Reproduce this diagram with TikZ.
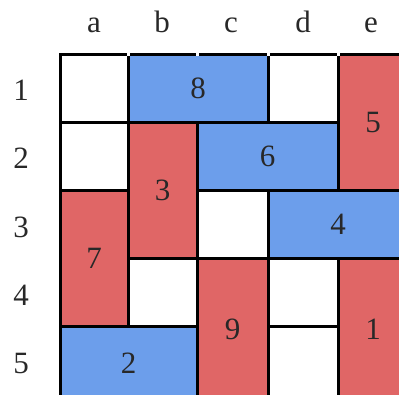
\documentclass[tikz,border=0pt]{standalone}
\usepackage{fontspec}
\setmainfont{Liberation Serif}
\definecolor{pblue}{RGB}{108,158,235}
\definecolor{pred}{RGB}{224,102,102}
\definecolor{ink}{RGB}{40,40,40}
\tikzset{
  piece/.style={draw=black, line width=3pt, inner sep=0pt, anchor=center, text=ink, font=\fontsize{31}{31}\selectfont},
  bluep/.style={piece, fill=pblue},
  redp/.style={piece, fill=pred},
  whitep/.style={piece, fill=white},
  lab/.style={text=ink, font=\fontsize{31}{31}\selectfont, anchor=base, inner sep=0pt},
  gapmark/.style={fill=white, draw=none}
}
\begin{document}
\begin{tikzpicture}[x=1pt,y=-1pt]
\useasboundingbox (0,0) rectangle (399,394);
\clip (0,0) rectangle (399,394);
% column labels
\node[lab] (ca) at (94,32) {a};
\node[lab] (cb) at (162,32) {b};
\node[lab] (cc) at (231,32) {c};
\node[lab] (cd) at (303,32) {d};
\node[lab] (ce) at (371,32) {e};
% row labels
\node[lab] (r1) at (21,100) {1};
\node[lab] (r2) at (21,168) {2};
\node[lab] (r3) at (21,237) {3};
\node[lab] (r4) at (21,305) {4};
\node[lab] (r5) at (21,373) {5};
% white cells
\node[whitep, minimum width=68pt, minimum height=68pt] (wa1) at (94,88) {};
\node[whitep, minimum width=70pt, minimum height=68pt] (wd1) at (303,88) {};
\node[whitep, minimum width=68pt, minimum height=68pt] (wa2) at (94,156) {};
\node[whitep, minimum width=71pt, minimum height=69pt] (wc3) at (232.5,224.5) {};
\node[whitep, minimum width=69pt, minimum height=68pt] (wb4) at (162.5,292) {};
\node[whitep, minimum width=70pt, minimum height=68pt] (wd4) at (303,292) {};
\node[whitep, minimum width=70pt, minimum height=74pt] (wd5) at (303,363) {};
% pieces
\node[bluep, minimum width=140pt, minimum height=68pt] (p8) at (198,88) {8};
\node[redp, minimum width=70pt, minimum height=136pt] (p5) at (373,122) {5};
\node[bluep, minimum width=141pt, minimum height=68pt] (p6) at (267.5,156) {6};
\node[redp, minimum width=69pt, minimum height=136pt] (p3) at (162.5,190) {3};
\node[bluep, minimum width=140pt, minimum height=68pt] (p4) at (338,224) {4};
\node[redp, minimum width=68pt, minimum height=136pt] (p7) at (94,258) {7};
\node[redp, minimum width=71pt, minimum height=142pt] (p9) at (232.5,329) {9};
\node[redp, minimum width=70pt, minimum height=142pt] (p1) at (373,329) {1};
\node[bluep, minimum width=137pt, minimum height=74pt] (p2) at (128.5,363) {2};
% small gaps in the top border line
\foreach \gx in {128,197,268,338}{
  \fill[gapmark] (\gx-1.5,52) rectangle (\gx+1.5,55.6);
}
\end{tikzpicture}
\end{document}
